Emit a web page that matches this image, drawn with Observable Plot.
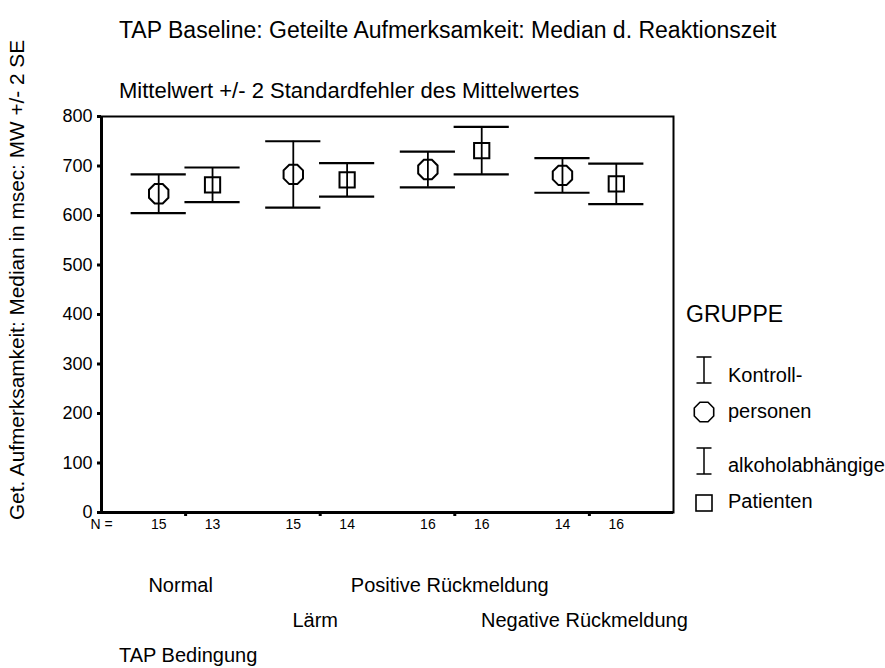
<!DOCTYPE html>
<html>
<head>
<meta charset="utf-8">
<script src="https://cdn.jsdelivr.net/npm/d3@7"></script>
<script src="https://cdn.jsdelivr.net/npm/@observablehq/plot@0.6"></script>
<style>
  html, body { margin: 0; padding: 0; background: #fff; }
  #chart { width: 885px; height: 668px; }
</style>
</head>
<body>
<div id="chart"></div>
<script>
// TAP baseline, divided attention: median reaction time per condition and group
const bedingungen = ["Normal", "Lärm", "Positive Rückmeldung", "Negative Rückmeldung"];
const gruppen = ["Kontrollpersonen", "alkoholabhängige Patienten"];

// mean of the median reaction time (msec) and 2 standard errors
const mwKontroll = [644, 683, 693, 681];
const se2Kontroll = [39, 67, 36, 35];
const mwPatienten = [662, 672, 731, 664];
const se2Patienten = [35, 34, 48, 41];

// group sizes
const nKontroll = [15, 15, 16, 14];
const nPatienten = [13, 14, 16, 16];

const yTicks = [0, 100, 200, 300, 400, 500, 600, 700, 800];
const legendZeilen = [["Kontroll-", "personen"], ["alkoholabhängige", "Patienten"]];

const titel = "TAP Baseline: Geteilte Aufmerksamkeit: Median d. Reaktionszeit";
const untertitel = "Mittelwert +/- 2 Standardfehler des Mittelwertes";
const yTitel = "Get. Aufmerksamkeit: Median in msec: MW +/- 2 SE";
const xTitel = "TAP Bedingung";
const legendTitel = "GRUPPE";

const FONT = "'Liberation Sans', Arial, Helvetica, sans-serif";

// clustered positions: each condition at an integer, groups offset to either side
const versatz = 0.2;
const rows = [];
bedingungen.forEach((b, i) => {
  rows.push({bed: b, g: 0, x: i - versatz, mw: mwKontroll[i], lo: mwKontroll[i] - se2Kontroll[i], hi: mwKontroll[i] + se2Kontroll[i], n: nKontroll[i]});
  rows.push({bed: b, g: 1, x: i + versatz, mw: mwPatienten[i], lo: mwPatienten[i] - se2Patienten[i], hi: mwPatienten[i] + se2Patienten[i], n: nPatienten[i]});
});
const kontroll = rows.filter(d => d.g === 0);
const patienten = rows.filter(d => d.g === 1);

// regular octagon, flat on top and bottom
const octagon = {
  draw(context, size) {
    const r = Math.sqrt(size / Math.PI);
    for (let k = 0; k < 8; ++k) {
      const a = Math.PI / 8 + k * Math.PI / 4;
      const px = r * Math.cos(a), py = r * Math.sin(a);
      if (k === 0) context.moveTo(px, py); else context.lineTo(px, py);
    }
    context.closePath();
  }
};

const xDomain = [-0.625, 3.625];
const capHalb = 0.205;

const plot = Plot.plot({
  width: 885,
  height: 668,
  marginLeft: 101,
  marginRight: 212,
  marginTop: 116,
  marginBottom: 156,
  style: {fontFamily: FONT, fontSize: "18px", color: "#000", background: "#fff", overflow: "visible"},
  x: {domain: xDomain, label: null},
  y: {domain: [0, 800], label: null},
  marks: [
    Plot.frame({stroke: "#000", strokeWidth: 2}),
    Plot.ruleX([xDomain[0]], {stroke: "#000", strokeWidth: 3}),
    Plot.ruleY([0], {stroke: "#000", strokeWidth: 3}),
    Plot.axisY({ticks: yTicks, tickSize: 4, tickPadding: 5, strokeWidth: 3, fontSize: 18, label: null}),
    Plot.axisX({ticks: [0, 1, 2, 3], tickSize: 4, strokeWidth: 3, tickFormat: () => "", label: null}),
    // error bars: stem and caps
    Plot.ruleX(rows, {x: "x", y1: "lo", y2: "hi", stroke: "#000", strokeWidth: 1.8}),
    Plot.ruleY(rows, {y: "lo", x1: d => d.x - capHalb, x2: d => d.x + capHalb, stroke: "#000", strokeWidth: 2.2}),
    Plot.ruleY(rows, {y: "hi", x1: d => d.x - capHalb, x2: d => d.x + capHalb, stroke: "#000", strokeWidth: 2.2}),
    // means
    Plot.dot(kontroll, {x: "x", y: "mw", symbol: octagon, r: 10.5, fill: "none", stroke: "#000", strokeWidth: 2}),
    Plot.dot(patienten, {x: "x", y: "mw", symbol: "square", r: 8.6, fill: "none", stroke: "#000", strokeWidth: 2}),
    // group sizes under the axis
    Plot.text([{x: xDomain[0], t: "N ="}], {x: "x", text: "t", frameAnchor: "bottom", dy: 16, fontSize: 14}),
    Plot.text(rows, {x: "x", text: "n", frameAnchor: "bottom", dy: 16, fontSize: 14}),
    // condition labels on two staggered rows
    Plot.text(bedingungen.map((b, i) => ({b, i})).filter(d => d.i % 2 === 0), {x: "i", text: "b", frameAnchor: "bottom", dy: 79, dx: -5, fontSize: 20}),
    Plot.text(bedingungen.map((b, i) => ({b, i})).filter(d => d.i % 2 === 1), {x: "i", text: "b", frameAnchor: "bottom", dy: 114, dx: -5, fontSize: 20})
  ]
});

document.getElementById("chart").appendChild(plot);

// titles, axis title and legend
const svg = d3.select(plot);
const txt = (x, y, s, size, anchor = "start") =>
  svg.append("text").attr("x", x).attr("y", y).attr("font-family", FONT)
    .attr("font-size", size).attr("fill", "#000").attr("text-anchor", anchor).text(s);

txt(119, 38, titel, 23);
txt(119, 98, untertitel, 22);
txt(119, 662, xTitel, 20);
svg.append("text")
  .attr("transform", "translate(24,280) rotate(-90)")
  .attr("font-family", FONT).attr("font-size", 20.8).attr("fill", "#000")
  .attr("text-anchor", "middle").text(yTitel);

// legend
txt(686, 322, legendTitel, 23);
const lg = svg.append("g").attr("stroke", "#000").attr("fill", "none");
const ibar = (cx, y1, y2) => {
  lg.append("line").attr("x1", cx).attr("x2", cx).attr("y1", y1).attr("y2", y2).attr("stroke-width", 1.5);
  lg.append("line").attr("x1", cx - 7.5).attr("x2", cx + 7.5).attr("y1", y1).attr("y2", y1).attr("stroke-width", 1.5);
  lg.append("line").attr("x1", cx - 7.5).attr("x2", cx + 7.5).attr("y1", y2).attr("y2", y2).attr("stroke-width", 1.5);
};
ibar(704, 357, 383);
lg.append("path").attr("d", d3.symbol(octagon, Math.PI * 10.5 * 10.5)()).attr("transform", "translate(704,412)").attr("stroke-width", 1.6);
ibar(704, 448, 474);
lg.append("rect").attr("x", 696).attr("y", 495).attr("width", 16).attr("height", 16).attr("stroke-width", 1.6);

txt(728, 382, legendZeilen[0][0], 20);
txt(728, 418, legendZeilen[0][1], 20);
txt(728, 472, legendZeilen[1][0], 20);
txt(728, 508, legendZeilen[1][1], 20);
</script>
</body>
</html>
